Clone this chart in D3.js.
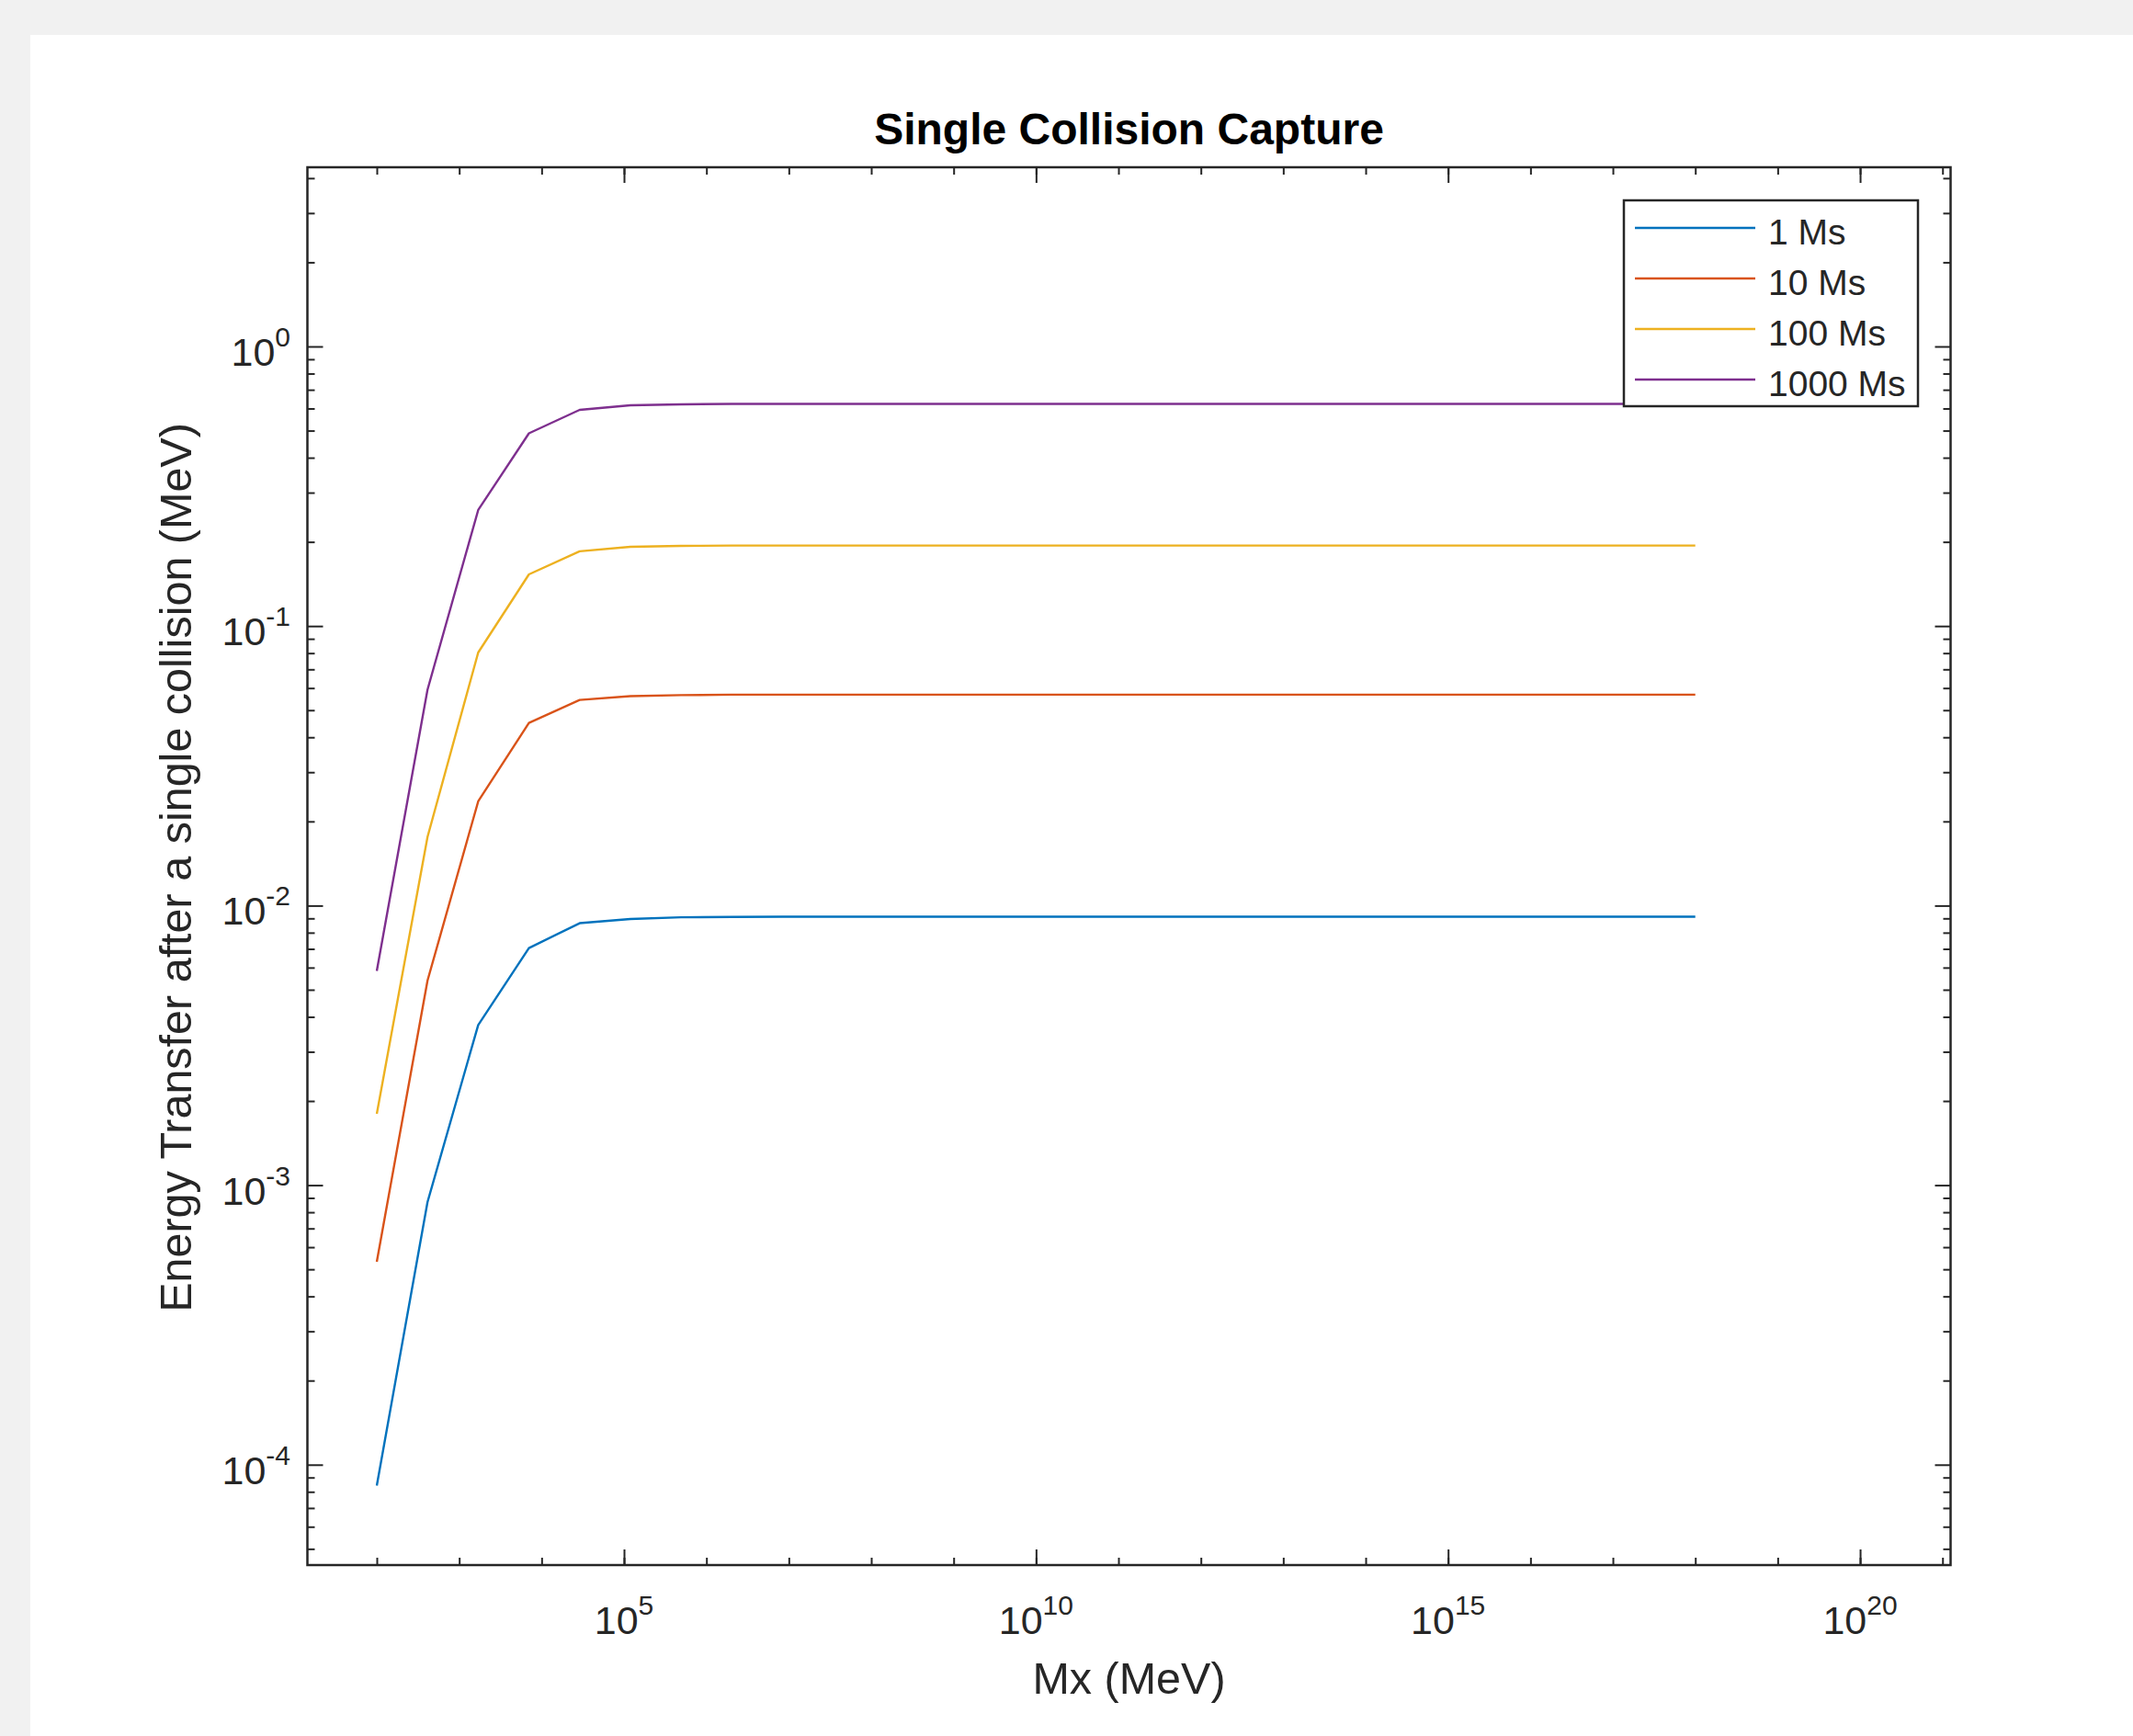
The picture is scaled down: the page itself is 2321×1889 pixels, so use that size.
<!DOCTYPE html>
<html>
<head>
<meta charset="utf-8">
<script src="https://cdn.jsdelivr.net/npm/d3@7"></script>
<style>
    body { margin: 0; background: #f1f1f1; }
    svg { display: block; font-family: "Liberation Sans", Arial, sans-serif; }
</style>
</head>
<body>
<svg id="chart" width="2321" height="1889"></svg>
<script>
// Mx values (MeV), 27 log-spaced points from 1e2 to 1e18
const mxValues = [1e2, 4.126e2, 1.701e3, 7.017e3, 2.894e4, 1.194e5, 4.924e5, 2.031e6, 8.377e6,
    3.455e7, 1.425e8, 5.878e8, 2.424e9, 1e10, 4.125e10, 1.701e11, 7.017e11, 2.894e12, 1.194e13,
    4.924e13, 2.031e14, 8.377e14, 3.455e15, 1.425e16, 5.878e16, 2.424e17, 1e18];

// energy transfer (MeV), one array per Ms
const energy1Ms = [8.42e-5, 8.7e-4, 3.74e-3, 7.05e-3, 8.65e-3, 8.95e-3, 9.08e-3, 9.11e-3, 9.12e-3,
    9.12e-3, 9.12e-3, 9.12e-3, 9.12e-3, 9.12e-3, 9.12e-3, 9.12e-3, 9.12e-3, 9.12e-3, 9.12e-3,
    9.12e-3, 9.12e-3, 9.12e-3, 9.12e-3, 9.12e-3, 9.12e-3, 9.12e-3, 9.12e-3];
const energy10Ms = [5.32e-4, 5.39e-3, 0.0236, 0.045, 0.0544, 0.0561, 0.0566, 0.0568, 0.0568,
    0.0568, 0.0568, 0.0568, 0.0568, 0.0568, 0.0568, 0.0568, 0.0568, 0.0568, 0.0568,
    0.0568, 0.0568, 0.0568, 0.0568, 0.0568, 0.0568, 0.0568, 0.0568];
const energy100Ms = [1.8e-3, 0.0176, 0.0804, 0.153, 0.185, 0.192, 0.1935, 0.194, 0.194,
    0.194, 0.194, 0.194, 0.194, 0.194, 0.194, 0.194, 0.194, 0.194, 0.194,
    0.194, 0.194, 0.194, 0.194, 0.194, 0.194, 0.194, 0.194];
const energy1000Ms = [5.84e-3, 0.0592, 0.26, 0.489, 0.593, 0.616, 0.621, 0.623, 0.623,
    0.623, 0.623, 0.623, 0.623, 0.623, 0.623, 0.623, 0.623, 0.623, 0.623,
    0.623, 0.623, 0.623, 0.623, 0.623, 0.623, 0.623, 0.623];

const seriesLabels = ['1 Ms', '10 Ms', '100 Ms', '1000 Ms'];
const seriesColors = ['#0072BD', '#D95319', '#EDB120', '#7E2F8E'];

const xTickExponents = [5, 10, 15, 20];
const yTickExponents = [0, -1, -2, -3, -4];

const svg = d3.select('#chart');
const axisColor = '#262626';

// white figure panel
svg.append('rect')
    .attr('x', 33).attr('y', 38)
    .attr('width', 2321 - 33).attr('height', 1889 - 38)
    .attr('fill', '#ffffff');

const plotLeft = 334.5, plotRight = 2122.5, plotTop = 182, plotBottom = 1703;

const x = d3.scaleLog()
    .domain([Math.pow(10, 1.158), Math.pow(10, 21.098)])
    .range([plotLeft, plotRight]);

const y = d3.scaleLog()
    .domain([Math.pow(10, -4.359), Math.pow(10, 0.641)])
    .range([plotBottom, plotTop]);

// tick positions
const xMinor = d3.range(2, 22).map(e => Math.pow(10, e));
const xMajor = xTickExponents.map(e => Math.pow(10, e));
const yMinor = [];
for (let e = -5; e <= 0; e++) {
    for (let m = 2; m <= 9; m++) {
        const v = m * Math.pow(10, e);
        if (v > y.domain()[0] && v < y.domain()[1]) yMinor.push(v);
    }
}
const yMajor = yTickExponents.map(e => Math.pow(10, e));

const majorLen = 17, minorLen = 8;

function addAxis(axis, transform) {
    const g = svg.append('g').attr('transform', transform).call(axis);
    g.select('.domain').remove();
    g.selectAll('line').attr('stroke', axisColor).attr('stroke-width', 2);
    g.selectAll('text').remove();
}

// inward ticks on all four sides
addAxis(d3.axisBottom(x).tickValues(xMinor).tickSizeInner(-minorLen).tickSizeOuter(0), `translate(0,${plotBottom})`);
addAxis(d3.axisBottom(x).tickValues(xMajor).tickSizeInner(-majorLen).tickSizeOuter(0), `translate(0,${plotBottom})`);
addAxis(d3.axisTop(x).tickValues(xMinor).tickSizeInner(-minorLen).tickSizeOuter(0), `translate(0,${plotTop})`);
addAxis(d3.axisTop(x).tickValues(xMajor).tickSizeInner(-majorLen).tickSizeOuter(0), `translate(0,${plotTop})`);
addAxis(d3.axisLeft(y).tickValues(yMinor).tickSizeInner(-minorLen).tickSizeOuter(0), `translate(${plotLeft},0)`);
addAxis(d3.axisLeft(y).tickValues(yMajor).tickSizeInner(-majorLen).tickSizeOuter(0), `translate(${plotLeft},0)`);
addAxis(d3.axisRight(y).tickValues(yMinor).tickSizeInner(-minorLen).tickSizeOuter(0), `translate(${plotRight},0)`);
addAxis(d3.axisRight(y).tickValues(yMajor).tickSizeInner(-majorLen).tickSizeOuter(0), `translate(${plotRight},0)`);

// box
svg.append('rect')
    .attr('x', plotLeft).attr('y', plotTop)
    .attr('width', plotRight - plotLeft).attr('height', plotBottom - plotTop)
    .attr('fill', 'none')
    .attr('stroke', axisColor)
    .attr('stroke-width', 2.5);

// x tick labels 10^n
xTickExponents.forEach(e => {
    const t = svg.append('text')
        .attr('x', x(Math.pow(10, e)))
        .attr('y', 1778)
        .attr('text-anchor', 'middle')
        .attr('fill', axisColor)
        .attr('font-size', 43);
    t.append('tspan').text('10');
    t.append('tspan').attr('dy', -21).attr('font-size', 30).text(e);
});

// y tick labels
yTickExponents.forEach(e => {
    const t = svg.append('text')
        .attr('x', 316)
        .attr('y', y(Math.pow(10, e)) + 21)
        .attr('text-anchor', 'end')
        .attr('fill', axisColor)
        .attr('font-size', 43);
    t.append('tspan').text('10');
    t.append('tspan').attr('dy', -21).attr('font-size', 30).text(e);
});

// series lines
const allSeries = [energy1Ms, energy10Ms, energy100Ms, energy1000Ms];
const line = d3.line()
    .x((d, i) => x(mxValues[i]))
    .y(d => y(d));

allSeries.forEach((s, i) => {
    svg.append('path')
        .datum(s)
        .attr('d', line)
        .attr('fill', 'none')
        .attr('stroke', seriesColors[i])
        .attr('stroke-width', 2.4)
        .attr('stroke-linejoin', 'round');
});

// title and axis labels
svg.append('text')
    .attr('x', (plotLeft + plotRight) / 2).attr('y', 157)
    .attr('text-anchor', 'middle')
    .attr('font-size', 48).attr('font-weight', 'bold')
    .attr('fill', '#000')
    .text('Single Collision Capture');

svg.append('text')
    .attr('x', (plotLeft + plotRight) / 2).attr('y', 1843)
    .attr('text-anchor', 'middle')
    .attr('font-size', 48.5)
    .attr('fill', axisColor)
    .text('Mx (MeV)');

svg.append('text')
    .attr('transform', 'translate(208,944) rotate(-90)')
    .attr('text-anchor', 'middle')
    .attr('font-size', 48.5)
    .attr('fill', axisColor)
    .text('Energy Transfer after a single collision (MeV)');

// legend
const legend = svg.append('g');
legend.append('rect')
    .attr('x', 1767).attr('y', 218)
    .attr('width', 320).attr('height', 224)
    .attr('fill', '#ffffff')
    .attr('stroke', axisColor)
    .attr('stroke-width', 2.5);

seriesLabels.forEach((label, i) => {
    const ly = 248 + i * 55;
    legend.append('line')
        .attr('x1', 1779).attr('x2', 1910)
        .attr('y1', ly).attr('y2', ly)
        .attr('stroke', seriesColors[i])
        .attr('stroke-width', 2.4);
    legend.append('text')
        .attr('x', 1924).attr('y', ly + 18)
        .attr('font-size', 39)
        .attr('fill', axisColor)
        .text(label);
});
</script>
</body>
</html>
